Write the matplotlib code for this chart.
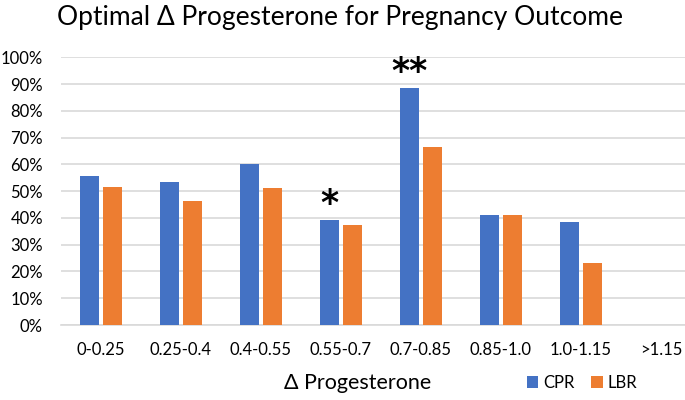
import matplotlib
matplotlib.use("Agg")
import matplotlib.pyplot as plt
import numpy as np

plt.rcParams["font.family"] = ["Lato", "DejaVu Sans"]

categories = ["0-0.25", "0.25-0.4", "0.4-0.55", "0.55-0.7",
              "0.7-0.85", "0.85-1.0", "1.0-1.15", ">1.15"]
cpr = [55.6, 53.5, 60.3, 39.4, 88.7, 41.2, 38.4, 0]
lbr = [51.6, 46.4, 51.1, 37.2, 66.5, 41.2, 23.0, 0]
stars = ["", "", "", "*", "**", "", "", ""]

blue = "#4472C4"
orange = "#ED7D31"

fig = plt.figure(figsize=(6.85, 4.0), dpi=100)
ax = fig.add_axes([61 / 685, 0.1875, 640 / 685, 0.6693])

x = np.arange(len(categories))
width = 0.235
off = 0.143

ax.bar(x - off, np.array(cpr) / 100, width, color=blue, label="CPR", zorder=3)
ax.bar(x + off, np.array(lbr) / 100, width, color=orange, label="LBR", zorder=3)

for i, s in enumerate(stars):
    if s:
        ax.text(x[i] - off, cpr[i] / 100 - 0.005, s, ha="center", va="bottom",
                fontsize=25, fontweight="bold", fontfamily="DejaVu Sans", zorder=4)

ax.set_xlim(-0.5, len(categories) - 0.5)
ax.set_ylim(0, 1.0)
ax.set_yticks(np.arange(0, 1.01, 0.1))
ax.set_yticklabels([f"{int(round(v * 100))}%" for v in np.arange(0, 1.01, 0.1)])
ax.set_xticks(x)
ax.set_xticklabels(categories)
ax.tick_params(axis="both", length=0, labelsize=12, colors="#000000")
ax.tick_params(axis="x", pad=12)
ax.tick_params(axis="y", pad=13)

ax.grid(axis="y", color="#d9d9d9", linewidth=1.2, zorder=0)
for side in ["top", "right", "left"]:
    ax.spines[side].set_visible(False)
ax.spines["bottom"].set_color("#d9d9d9")
ax.spines["bottom"].set_linewidth(1.2)

fig.text(340 / 685, 0.955, "Optimal \u0394 Progesterone for Pregnancy Outcome",
         ha="center", va="center", fontsize=19)
fig.text(358 / 685, 1 - 383 / 400, "\u0394 Progesterone", ha="center", va="center",
         fontsize=15.5)

fig.legend(loc="center", bbox_to_anchor=(582 / 685, 1 - 383 / 400), ncol=2,
           frameon=False, fontsize=12, handlelength=0.7, handleheight=0.7,
           handletextpad=0.3, columnspacing=1.0)

fig.savefig("out.png", dpi=100)
